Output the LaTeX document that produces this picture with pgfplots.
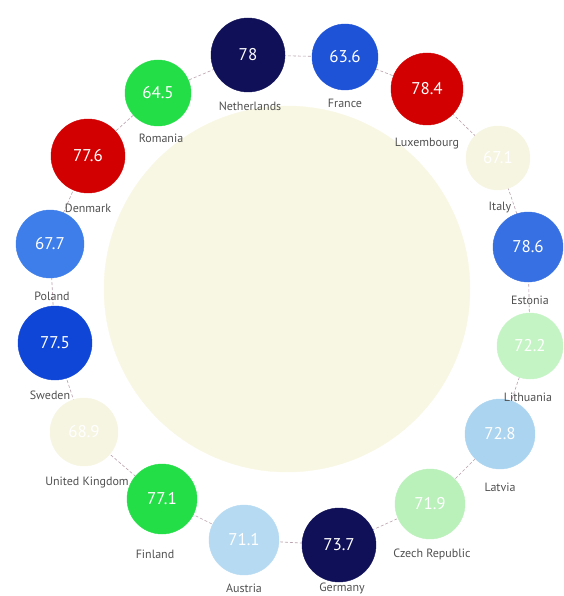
\documentclass[border=0pt]{standalone}
\usepackage{fontspec}
\setmainfont{PT Sans}
\usepackage{pgfplots}
\usepackage{pgfplotstable}
\pgfplotsset{compat=1.18}

\definecolor{cNavy}{RGB}{16,16,88}
\definecolor{cFR}{RGB}{30,82,215}
\definecolor{cRed}{RGB}{210,0,0}
\definecolor{cCream}{RGB}{246,245,226}
\definecolor{cEE}{RGB}{55,112,226}
\definecolor{cLGreen}{RGB}{196,244,196}
\definecolor{cLGreenB}{RGB}{186,240,186}
\definecolor{cLBlue}{RGB}{170,212,240}
\definecolor{cLBlueB}{RGB}{182,218,242}
\definecolor{cGreen}{RGB}{36,222,72}
\definecolor{cSE}{RGB}{16,70,215}
\definecolor{cPL}{RGB}{62,126,235}
\definecolor{cCentre}{RGB}{248,247,228}
\definecolor{cLink}{RGB}{185,160,172}
\definecolor{cLabel}{RGB}{80,80,80}

% pixel positions of the ring (bubble centre, label centre), value in each bubble
\pgfplotstableread{
x   y   val   lx  ly  name
248 55  78    250 106 Netherlands
345 57  63.6  345 103 France
427 89  78.4  427 144 Luxembourg
498 158 67.1  500 208 Italy
528 247 78.6  530 300 Estonia
530 346 72.2  528 397 Lithuania
500 434 72.8  500 487 Latvia
430 504 71.9  432 554 {Czech Republic}
339 545 73.7  342 588 Germany
244 540 71.1  244 588 Austria
162 499 77.1  155 554 Finland
84  432 68.9  87  483 {United Kingdom}
55  343 77.5  50  395 Sweden
50  244 67.7  52  296 Poland
88  156 77.6  88  208 Denmark
158 93  64.5  161 138 Romania
}\ring

\begin{document}
\begin{tikzpicture}
\begin{axis}[
  x=1pt, y=1pt, y dir=reverse,
  xmin=0, xmax=563, ymin=0, ymax=596,
  hide axis, clip=false,
  bubble/.style={only marks, mark=*, mark size=#1pt, mark options={draw=none}},
]
% dashed links between neighbours (closed ring)
\addplot[cLink, densely dashed, line width=0.6pt, mark=none] table[x=x, y=y] {\ring} -- cycle;

% central bubble
\addplot[bubble=183, cCentre] coordinates {(287,289)};

% ring bubbles
\addplot[bubble=37, cNavy]    coordinates {(248,55)};
\addplot[bubble=33, cFR]      coordinates {(345,57)};
\addplot[bubble=36, cRed]     coordinates {(427,89)};
\addplot[bubble=32, cCream]   coordinates {(498,158)};
\addplot[bubble=35, cEE]      coordinates {(528,247)};
\addplot[bubble=33, cLGreen]  coordinates {(530,346)};
\addplot[bubble=35, cLBlue]   coordinates {(500,434)};
\addplot[bubble=35, cLGreenB] coordinates {(430,504)};
\addplot[bubble=37, cNavy]    coordinates {(339,545)};
\addplot[bubble=35, cLBlueB]  coordinates {(244,540)};
\addplot[bubble=35, cGreen]   coordinates {(162,499)};
\addplot[bubble=34, cCream]   coordinates {(84,432)};
\addplot[bubble=37, cSE]      coordinates {(55,343)};
\addplot[bubble=34, cPL]      coordinates {(50,244)};
\addplot[bubble=37, cRed]     coordinates {(88,156)};
\addplot[bubble=33, cGreen]   coordinates {(158,93)};

% values inside the bubbles
\addplot[only marks, mark=none, point meta=explicit symbolic,
  nodes near coords,
  every node near coord/.append style={anchor=center, text=white, font=\fontsize{17}{17}\selectfont},
] table[x=x, y=y, meta=val] {\ring};

% country names
\addplot[only marks, mark=none, point meta=explicit symbolic,
  nodes near coords,
  every node near coord/.append style={anchor=center, text=cLabel, font=\fontsize{12}{12}\selectfont},
] table[x=lx, y=ly, meta=name] {\ring};
\end{axis}
\pgfresetboundingbox
\path (current axis.south west) rectangle (current axis.north east);
\end{tikzpicture}
\end{document}
